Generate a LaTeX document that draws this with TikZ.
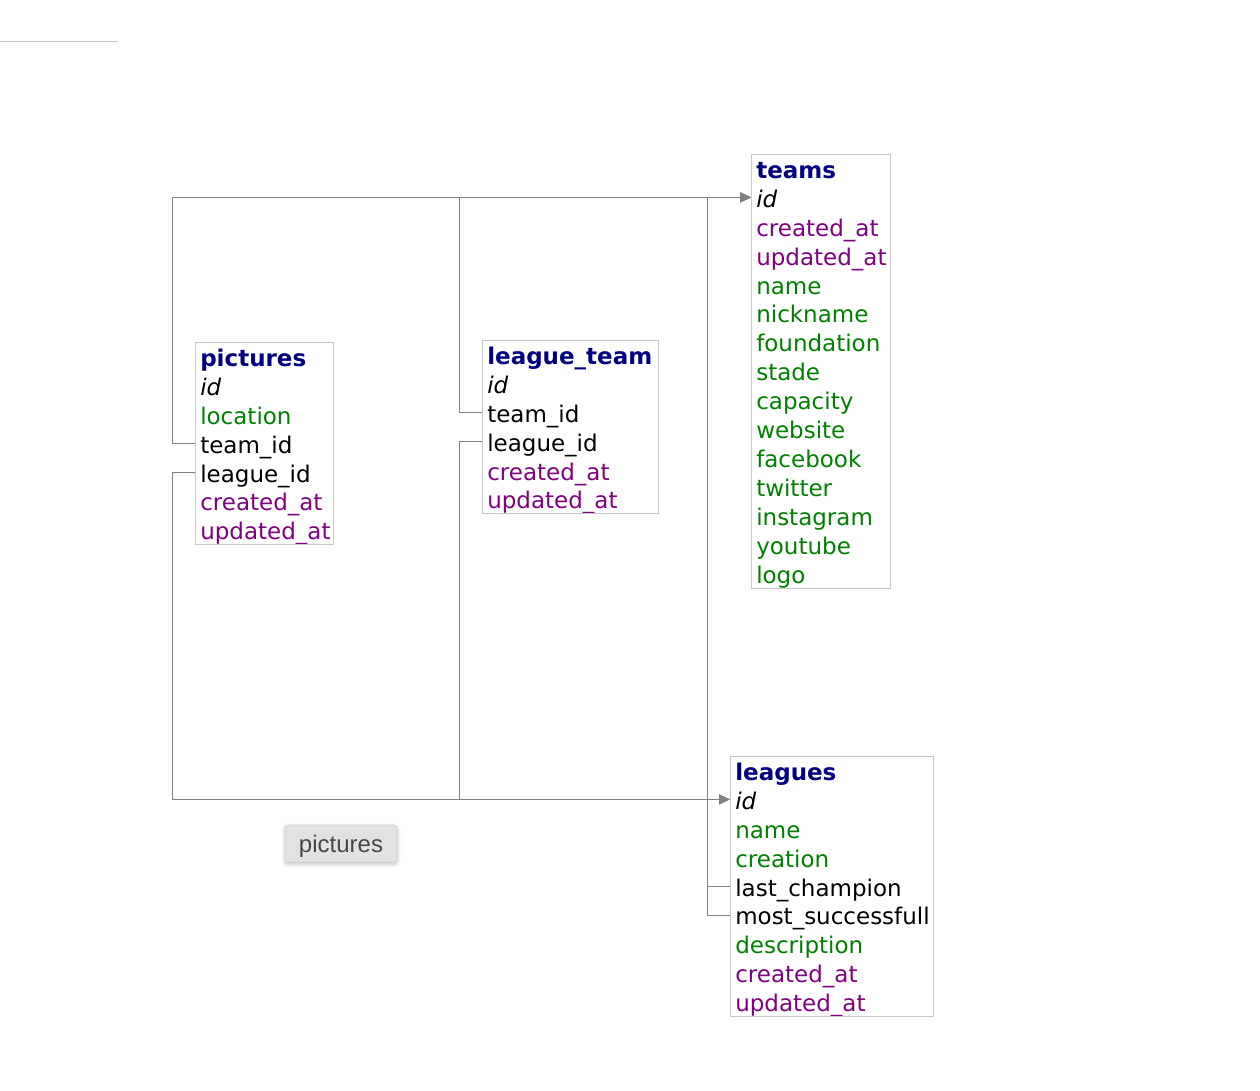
\documentclass[tikz,border=0pt]{standalone}
\usepackage{fontspec}
\setmainfont{DejaVu Sans}
\newfontfamily\buttonfont{Liberation Sans}
\usetikzlibrary{positioning, arrows.meta, shadows.blur}
\definecolor{tabletitle}{HTML}{000080}
\definecolor{fieldgreen}{HTML}{008000}
\definecolor{fieldpurple}{HTML}{800080}
\definecolor{linkgray}{HTML}{808080}
\definecolor{framegray}{HTML}{C8C8C8}
\definecolor{buttonfill}{HTML}{E2E2E2}
\definecolor{buttonborder}{HTML}{D2D2D2}
\tikzset{
  x=0.75pt, y=-0.75pt,
  row/.style={inner xsep=3.75pt, inner ysep=0pt, text height=18pt, text depth=3.3pt,
    align=left, font=\fontsize{17.25}{20}\selectfont},
  title/.style={row, text=tabletitle, font=\fontsize{17.25}{20}\selectfont\bfseries},
  key/.style={row, font=\fontsize{17.25}{20}\selectfont\itshape},
  fk/.style={row, text=black},
  attr/.style={row, text=fieldgreen},
  stamp/.style={row, text=fieldpurple},
  frame/.style={draw=framegray, line width=0.75pt},
  link/.style={draw=linkgray, line width=0.75pt, -{Triangle[length=8.25pt, width=7.5pt]}},
  button/.style={draw=buttonborder, fill=buttonfill, rounded corners=2.25pt,
    minimum width=84pt, minimum height=27.75pt, text=black!72,
    text height=13pt, text depth=0pt,
    font=\buttonfont\fontsize{18}{20}\selectfont,
    blur shadow={shadow xshift=0pt, shadow yshift=-1.5pt, shadow blur radius=3pt, shadow opacity=25}},
}

\begin{document}
\begin{tikzpicture}
  \useasboundingbox (0,0) rectangle (1260,1090);
  \draw[frame] (0,41) -- (118,41);

  % teams
  \begin{scope}[every node/.append style={text width=96.75pt}]
    \node[title, anchor=north west] (teams) at (751,154) {teams};
    \node[key, below=0pt of teams] (teams-id) {id};
    \node[stamp, below=0pt of teams-id] (teams-created) {created\_at};
    \node[stamp, below=0pt of teams-created] (teams-updated) {updated\_at};
    \node[attr, below=0pt of teams-updated] (teams-name) {name};
    \node[attr, below=0pt of teams-name] (teams-nickname) {nickname};
    \node[attr, below=0pt of teams-nickname] (teams-foundation) {foundation};
    \node[attr, below=0pt of teams-foundation] (teams-stade) {stade};
    \node[attr, below=0pt of teams-stade] (teams-capacity) {capacity};
    \node[attr, below=0pt of teams-capacity] (teams-website) {website};
    \node[attr, below=0pt of teams-website] (teams-facebook) {facebook};
    \node[attr, below=0pt of teams-facebook] (teams-twitter) {twitter};
    \node[attr, below=0pt of teams-twitter] (teams-instagram) {instagram};
    \node[attr, below=0pt of teams-instagram] (teams-youtube) {youtube};
    \node[attr, below=0pt of teams-youtube] (teams-logo) {logo};
  \end{scope}
  \draw[frame] (teams.north west) rectangle (teams-logo.south east);

  % pictures
  \begin{scope}[every node/.append style={text width=96pt}]
    \node[title, anchor=north west] (pictures) at (195,342) {pictures};
    \node[key, below=0pt of pictures] (pictures-id) {id};
    \node[attr, below=0pt of pictures-id] (pictures-location) {location};
    \node[fk, below=0pt of pictures-location] (pictures-team) {team\_id};
    \node[fk, below=0pt of pictures-team] (pictures-league) {league\_id};
    \node[stamp, below=0pt of pictures-league] (pictures-created) {created\_at};
    \node[stamp, below=0pt of pictures-created] (pictures-updated) {updated\_at};
  \end{scope}
  \draw[frame] (pictures.north west) rectangle (pictures-updated.south east);

  % league_team
  \begin{scope}[every node/.append style={text width=124.5pt}]
    \node[title, anchor=north west] (leagueteam) at (482,340) {league\_team};
    \node[key, below=0pt of leagueteam] (leagueteam-id) {id};
    \node[fk, below=0pt of leagueteam-id] (leagueteam-team) {team\_id};
    \node[fk, below=0pt of leagueteam-team] (leagueteam-league) {league\_id};
    \node[stamp, below=0pt of leagueteam-league] (leagueteam-created) {created\_at};
    \node[stamp, below=0pt of leagueteam-created] (leagueteam-updated) {updated\_at};
  \end{scope}
  \draw[frame] (leagueteam.north west) rectangle (leagueteam-updated.south east);

  % leagues
  \begin{scope}[every node/.append style={text width=144.75pt}]
    \node[title, anchor=north west] (leagues) at (730,756) {leagues};
    \node[key, below=0pt of leagues] (leagues-id) {id};
    \node[attr, below=0pt of leagues-id] (leagues-name) {name};
    \node[attr, below=0pt of leagues-name] (leagues-creation) {creation};
    \node[fk, below=0pt of leagues-creation] (leagues-champion) {last\_champion};
    \node[fk, below=0pt of leagues-champion] (leagues-successful) {most\_successfull};
    \node[attr, below=0pt of leagues-successful] (leagues-description) {description};
    \node[stamp, below=0pt of leagues-description] (leagues-created) {created\_at};
    \node[stamp, below=0pt of leagues-created] (leagues-updated) {updated\_at};
  \end{scope}
  \draw[frame] (leagues.north west) rectangle (leagues-updated.south east);

  % foreign keys
  \draw[link] (pictures-team.west) -- ++(-23,0) |- (teams-id.west);
  \draw[link] (pictures-league.west) -- ++(-23,0) |- (leagues-id.west);
  \draw[link] (leagueteam-team.west) -- ++(-23,0) |- (teams-id.west);
  \draw[link] (leagueteam-league.west) -- ++(-23,0) |- (leagues-id.west);
  \draw[link] (leagues-champion.west) -- ++(-23,0) |- (teams-id.west);
  \draw[link] (leagues-successful.west) -- ++(-23,0) |- (teams-id.west);

  \node[button] (picturesbutton) at (341,843.5) {pictures};
\end{tikzpicture}
\end{document}
